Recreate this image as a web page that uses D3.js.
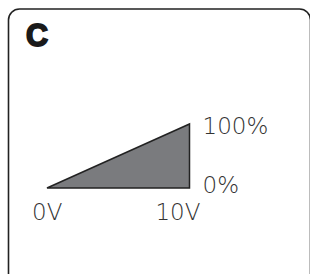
<!DOCTYPE html>
<html>
<head>
<meta charset="utf-8">
<script src="https://cdn.jsdelivr.net/npm/d3@7"></script>
<style>
  html, body { margin: 0; padding: 0; background: #fff; }
  svg { display: block; }
</style>
</head>
<body>
<svg id="chart" width="310" height="274"></svg>
<script>
// ramp data: voltage in -> percent out
var voltages = [0, 10, 10];
var percents = [0, 0, 100];
var xTicks = [{v: 0, label: "0V"}, {v: 10, label: "10V"}];
var yTicks = [{p: 100, label: "100%"}, {p: 0, label: "0%"}];
var panelLabel = "C";

var svg = d3.select("#chart");

// panel frame, runs off the right and bottom
svg.append("rect")
    .attr("x", 8.5)
    .attr("y", 9)
    .attr("width", 302)
    .attr("height", 300)
    .attr("rx", 11)
    .attr("fill", "none")
    .attr("stroke", "#222")
    .attr("stroke-width", 1.6);

svg.append("text")
    .attr("x", 26)
    .attr("y", 45.5)
    .attr("font-family", "Liberation Sans, Arial, sans-serif")
    .attr("font-weight", 900)
    .attr("font-size", 30.5)
    .attr("fill", "#1a1a1a")
    .attr("stroke", "#1a1a1a")
    .attr("stroke-width", 1.8)
    .text(panelLabel);

var x = d3.scaleLinear().domain([0, 10]).range([47, 189.5]);
var y = d3.scaleLinear().domain([0, 100]).range([188, 124]);

var pts = voltages.map((v, i) => [x(v), y(percents[i])]);

svg.append("path")
    .attr("d", d3.line()(pts) + "Z")
    .attr("fill", "#7a7b7e")
    .attr("stroke", "#222")
    .attr("stroke-width", 1.5)
    .attr("stroke-linejoin", "miter");

var font = "DejaVu Sans, sans-serif";

svg.selectAll(".xl")
    .data(xTicks)
    .enter()
    .append("text")
    .attr("class", "xl")
    .attr("x", d => d.v === 0 ? x(d.v) - 15 : x(d.v) + 11)
    .attr("y", 220)
    .attr("text-anchor", d => d.v === 0 ? "start" : "end")
    .attr("font-family", font)
    .attr("font-weight", 200)
    .attr("font-size", 23)
    .attr("fill", "#333")
    .text(d => d.label);

svg.selectAll(".yl")
    .data(yTicks)
    .enter()
    .append("text")
    .attr("class", "yl")
    .attr("x", x(10) + 13)
    .attr("y", d => d.p === 100 ? y(d.p) + 9.5 : y(d.p) + 4.5)
    .attr("font-family", font)
    .attr("font-weight", 200)
    .attr("font-size", 23)
    .attr("fill", "#333")
    .text(d => d.label);
</script>
</body>
</html>
